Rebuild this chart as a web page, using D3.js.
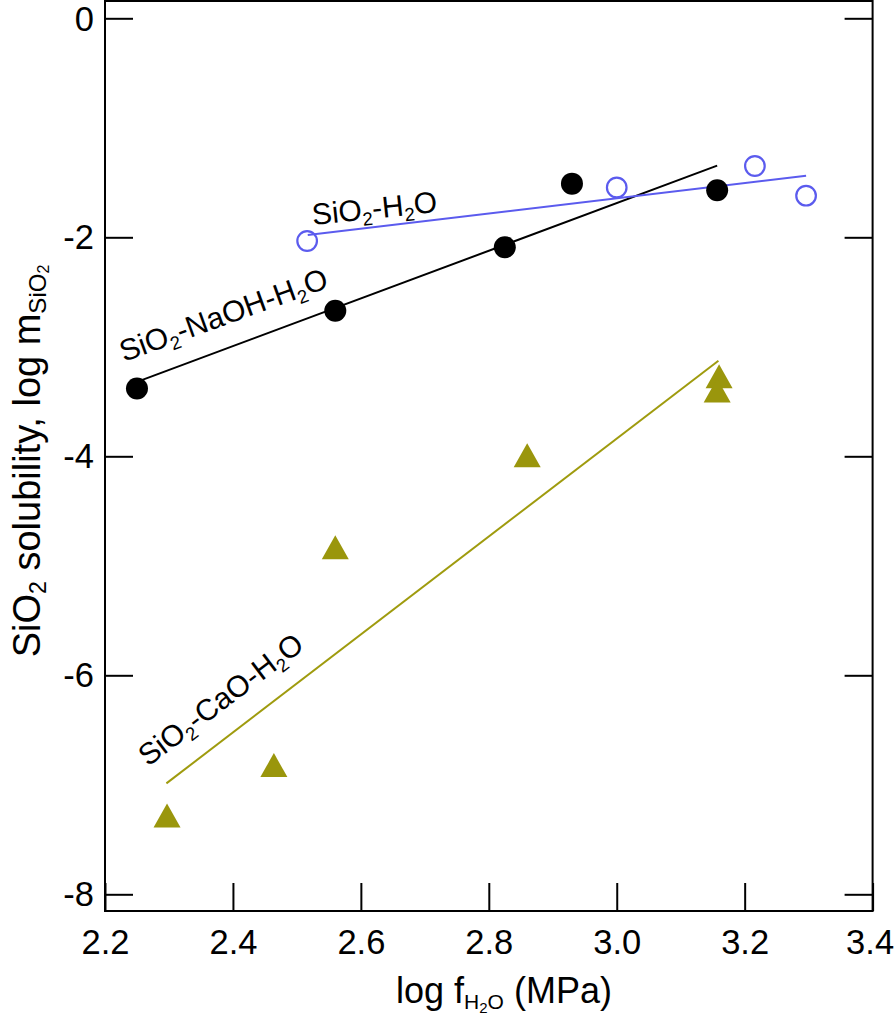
<!DOCTYPE html>
<html><head><meta charset="utf-8">
<script src="https://cdn.jsdelivr.net/npm/d3@7"></script>
<style>
html,body{margin:0;padding:0;background:#fff;}
svg{display:block;font-family:"Liberation Sans",Arial,Helvetica,sans-serif;}
</style></head>
<body>
<svg id="chart" width="894" height="1016"></svg>
<script>
// ---- data ----
const xTicks = [2.2, 2.4, 2.6, 2.8, 3.0, 3.2, 3.4];
const yTicks = [0, -2, -4, -6, -8];

const naohX = [2.25, 2.56, 2.825, 2.93, 3.157];
const naohY = [-3.38, -2.67, -2.09, -1.51, -1.57];
const naohFitX = [2.25, 3.157];
const naohFitY = [-3.32, -1.346];

const h2oX = [2.516, 3.0, 3.216, 3.296];
const h2oY = [-2.034, -1.545, -1.349, -1.62];
const h2oFitX = [2.517, 3.296];
const h2oFitY = [-1.98, -1.437];

const caoX = [2.297, 2.464, 2.56, 2.86, 3.16, 3.157];
const caoY = [-7.28, -6.82, -4.83, -3.99, -3.27, -3.40];
const caoFitX = [2.296, 3.159];
const caoFitY = [-6.987, -3.127];

const BLUE = "#5b5bee", OLIVE = "#9f9b0e", OLIVE_FILL = "#9a960c";

// ---- layout ----
const svg = d3.select("#chart");
const x = d3.scaleLinear().domain([2.2, 3.4]).range([105, 872.6]);
const y = d3.scaleLinear().domain([-8, 0]).range([894.3, 18.3]);
const frameTop = 1, frameBottom = 911;

// axes
const fs = 34.5;
const gx = svg.append("g").attr("transform", `translate(0,${frameBottom})`)
  .call(d3.axisBottom(x).tickValues(xTicks).tickSize(-28).tickPadding(19).tickFormat(d3.format(".1f")));
const gy = svg.append("g").attr("transform", `translate(${x(2.2)},0)`)
  .call(d3.axisLeft(y).tickValues(yTicks).tickSize(-28).tickPadding(11).tickFormat(d => String(d)));
const gr = svg.append("g").attr("transform", `translate(${x(3.4)},0)`)
  .call(d3.axisRight(y).tickValues(yTicks).tickSize(-28).tickFormat(""));
[gx, gy, gr].forEach(g => {
  g.select(".domain").remove();
  g.selectAll(".tick line").attr("stroke", "#000").attr("stroke-width", 2);
  g.selectAll(".tick text").attr("font-size", fs).attr("fill", "#000")
    .attr("font-family", '"Liberation Sans",Arial,Helvetica,sans-serif');
});
gx.selectAll(".tick text").filter(d => d === 3.4).attr("dx", -3);
gy.selectAll(".tick text").filter(d => d === 0).attr("dy", "0.36em");

// frame
svg.append("rect").attr("x", x(2.2)).attr("y", frameTop)
  .attr("width", x(3.4) - x(2.2)).attr("height", frameBottom - frameTop)
  .attr("fill", "none").attr("stroke", "#000").attr("stroke-width", 2);

// fit lines
function fitLine(xs, ys, color) {
  svg.append("path")
    .datum(xs.map((v, i) => [v, ys[i]]))
    .attr("d", d3.line().x(d => x(d[0])).y(d => y(d[1])))
    .attr("fill", "none").attr("stroke", color).attr("stroke-width", 2);
}
fitLine(naohFitX, naohFitY, "#000");
fitLine(h2oFitX, h2oFitY, BLUE);
fitLine(caoFitX, caoFitY, OLIVE);

// points
svg.append("g").selectAll("circle").data(naohX.map((v, i) => [v, naohY[i]])).join("circle")
  .attr("cx", d => x(d[0])).attr("cy", d => y(d[1])).attr("r", 11).attr("fill", "#000");
svg.append("g").selectAll("circle").data(h2oX.map((v, i) => [v, h2oY[i]])).join("circle")
  .attr("cx", d => x(d[0])).attr("cy", d => y(d[1])).attr("r", 9.8)
  .attr("fill", "none").attr("stroke", BLUE).attr("stroke-width", 2.2);
const tri = "M0,-12L13.5,12L-13.5,12Z";
svg.append("g").selectAll("path").data(caoX.map((v, i) => [v, caoY[i]])).join("path")
  .attr("transform", d => `translate(${x(d[0])},${y(d[1])})`)
  .attr("d", tri).attr("fill", OLIVE_FILL);

// in-plot labels
function chem(g, parts, size) {
  const t = g.append("text").attr("font-size", size).attr("fill", "#000");
  let shift = 0;
  parts.forEach(p => {
    const s = p[1] || 0;
    const target = s ? size * 0.2 : 0;
    t.append("tspan").text(p[0])
      .attr("font-size", s ? size * 0.62 : size)
      .attr("dy", target - shift);
    shift = target;
  });
  return t;
}
const lbls = [
  {parts: [["SiO"], ["2", 1], ["-H"], ["2", 1], ["O"]], x: 313, y: 225, rot: -6},
  {parts: [["SiO"], ["2", 1], ["-NaOH-H"], ["2", 1], ["O"]], x: 124, y: 362, rot: -20},
  {parts: [["SiO"], ["2", 1], ["-CaO-H"], ["2", 1], ["O"]], x: 148, y: 767, rot: -37}
];
lbls.forEach(l => {
  const g = svg.append("g").attr("transform", `translate(${l.x},${l.y}) rotate(${l.rot})`);
  chem(g, l.parts, 30);
});

// x axis title
const xt = svg.append("text").attr("x", 504).attr("y", 1003).attr("text-anchor", "middle")
  .attr("font-size", 36).attr("fill", "#000");
xt.append("tspan").text("log f");
xt.append("tspan").text("H").attr("font-size", 21).attr("dy", 6);
xt.append("tspan").text("2").attr("font-size", 15).attr("dy", 4);
xt.append("tspan").text("O").attr("font-size", 21).attr("dy", -4);
xt.append("tspan").text(" (MPa)").attr("dy", -6);

// y axis title
const yt = svg.append("text").attr("transform", "translate(40,461) rotate(-90)")
  .attr("text-anchor", "middle").attr("font-size", 38).attr("fill", "#000");
yt.append("tspan").text("SiO");
yt.append("tspan").text("2").attr("font-size", 23).attr("dy", 6);
yt.append("tspan").text(" solubility, log m").attr("dy", -6);
yt.append("tspan").text("SiO").attr("font-size", 24).attr("dy", 6);
yt.append("tspan").text("2").attr("font-size", 16).attr("dy", 3);
</script>
</body></html>
